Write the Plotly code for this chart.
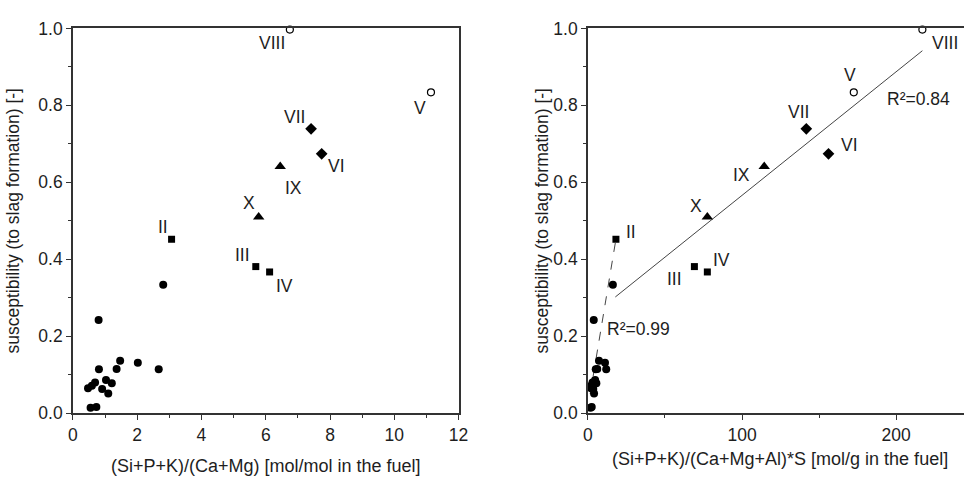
import plotly.graph_objects as go

# ---------------- data ----------------
# unlabeled fuels (filled circles): susceptibility and both ratios
circ_y = [0.242, 0.334, 0.136, 0.131, 0.115, 0.114, 0.114, 0.086, 0.080, 0.078, 0.071, 0.065, 0.063, 0.051, 0.016, 0.014]
circ_x_left = [0.80, 2.81, 1.47, 2.02, 1.36, 0.81, 2.67, 1.03, 0.69, 1.21, 0.59, 0.47, 0.91, 1.10, 0.73, 0.55]
circ_x_right = [3.8, 16.2, 7.2, 11.1, 6.1, 5.1, 11.9, 4.7, 3.0, 5.5, 2.1, 2.1, 3.5, 4.0, 2.5, 1.7]

# labelled fuels
lab_names = ["II", "III", "IV", "X", "IX", "VII", "VI", "V", "VIII"]
lab_y = [0.452, 0.381, 0.367, 0.510, 0.641, 0.739, 0.674, 0.834, 0.997]
lab_x_left = [3.07, 5.69, 6.12, 5.78, 6.45, 7.41, 7.74, 11.14, 6.75]
lab_x_right = [18.2, 69.1, 77.5, 77.5, 114.4, 141.7, 156.1, 172.5, 217.0]
lab_group = ["sq", "sq", "sq", "tri", "tri", "dia", "dia", "open", "open"]

# trend lines (right panel)
fit1_x = [17.8, 217.0]
fit1_y = [0.302, 0.942]
fit1_label = "R²=0.84"
fit2_x = [1.5, 18.2]
fit2_y = [0.050, 0.452]
fit2_label = "R²=0.99"

x_title_left = "(Si+P+K)/(Ca+Mg) [mol/mol in the fuel]"
x_title_right = "(Si+P+K)/(Ca+Mg+Al)*S [mol/g in the fuel]"
y_title = "susceptibility (to slag formation) [-]"

# ---------------- style ----------------
FONT = "Liberation Sans, Arial, sans-serif"
TXT = "#1e1e1e"
AX = "#333333"
FS = 17.5
sym_style = {
    "sq": dict(symbol="square", size=7, color="black", line=dict(width=0)),
    "tri": dict(symbol="triangle-up", size=10, color="black", line=dict(width=0)),
    "dia": dict(symbol="diamond", size=9, color="black", line=dict(width=0)),
    "open": dict(symbol="circle", size=7, color="white", line=dict(width=1.2, color="black")),
}
off_left = {"II": (-9, 12), "III": (-13, 12), "IV": (15, -14), "X": (-10, 14), "IX": (13, -21),
            "VII": (-17, 12), "VI": (15, -12), "V": (-11, -16), "VIII": (-18, -13)}
off_right = {"II": (15, 7), "III": (-20, -12), "IV": (14, 12), "X": (-11, 11), "IX": (-23, -8),
             "VII": (-8, 17), "VI": (21, 9), "V": (-4, 17), "VIII": (23, -13)}

fig = go.Figure()

# trend lines
fig.add_trace(go.Scatter(x=fit1_x, y=fit1_y, mode="lines", line=dict(color="#444", width=1),
                         xaxis="x2", yaxis="y2", showlegend=False, hoverinfo="skip"))
fig.add_trace(go.Scatter(x=fit2_x, y=fit2_y, mode="lines", line=dict(color="#444", width=1, dash="dash"),
                         xaxis="x2", yaxis="y2", showlegend=False, hoverinfo="skip"))

for xs, xa, ya in [(circ_x_left, "x", "y"), (circ_x_right, "x2", "y2")]:
    fig.add_trace(go.Scatter(x=xs, y=circ_y, mode="markers", xaxis=xa, yaxis=ya,
                             marker=dict(symbol="circle", size=8, color="black"),
                             showlegend=False, cliponaxis=False))

for g in ["sq", "tri", "dia", "open"]:
    idx = [i for i, gg in enumerate(lab_group) if gg == g]
    for xs, xa, ya in [(lab_x_left, "x", "y"), (lab_x_right, "x2", "y2")]:
        fig.add_trace(go.Scatter(x=[xs[i] for i in idx], y=[lab_y[i] for i in idx], mode="markers",
                                 xaxis=xa, yaxis=ya, marker=sym_style[g], showlegend=False,
                                 cliponaxis=False))

ann = []
for i, n in enumerate(lab_names):
    dx, dy = off_left[n]
    ann.append(dict(x=lab_x_left[i], y=lab_y[i], xref="x", yref="y", text=n, showarrow=False,
                    xshift=dx, yshift=dy, font=dict(size=FS, color=TXT, family=FONT)))
    dx, dy = off_right[n]
    ann.append(dict(x=lab_x_right[i], y=lab_y[i], xref="x2", yref="y2", text=n, showarrow=False,
                    xshift=dx, yshift=dy, font=dict(size=FS, color=TXT, family=FONT)))
ann.append(dict(x=214.6, y=0.817, xref="x2", yref="y2", text=fit1_label, showarrow=False,
                font=dict(size=FS, color=TXT, family=FONT)))
ann.append(dict(x=32.7, y=0.219, xref="x2", yref="y2", text=fit2_label, showarrow=False,
                font=dict(size=FS, color=TXT, family=FONT)))
# right x-axis title (the original axis runs past the picture edge, so centre it manually)
ann.append(dict(x=0.8085, y=0.024, xref="paper", yref="paper", text=x_title_right, showarrow=False,
                xanchor="center", yanchor="middle", font=dict(size=18, color=TXT, family=FONT)))

common_axis = dict(showline=True, linecolor=AX, linewidth=1.5, ticks="outside", ticklen=5,
                   tickwidth=1.2, tickcolor=AX, showgrid=False, zeroline=False,
                   tickfont=dict(size=FS, color=TXT, family=FONT),
                   title_font=dict(size=FS, color=TXT, family=FONT))
minor = dict(ticks="outside", ticklen=3, tickwidth=1, tickcolor=AX)

fig.update_layout(
    width=974, height=480, margin=dict(l=0, r=0, t=0, b=0),
    paper_bgcolor="white", plot_bgcolor="white",
    xaxis=dict(common_axis, domain=[0.0708, 0.473], range=[0, 12], dtick=2, mirror=True,
               minor=dict(minor, dtick=1), anchor="y",
               title=dict(text=x_title_left, standoff=15, font=dict(size=18))),
    yaxis=dict(common_axis, domain=[0.1235, 0.96], range=[0, 1.0], dtick=0.2, tickformat=".1f",
               mirror=True, minor=dict(minor, dtick=0.1), anchor="x",
               title=dict(text=y_title, standoff=14)),
    xaxis2=dict(common_axis, domain=[0.6078, 1.0], range=[0, 244], dtick=100, mirror=True,
                minor=dict(minor, dtick=50), anchor="y2"),
    yaxis2=dict(common_axis, domain=[0.1235, 0.96], range=[0, 1.0], dtick=0.2, tickformat=".1f",
                mirror=False, minor=dict(minor, dtick=0.1), anchor="x2",
                title=dict(text=y_title, standoff=0)),
    annotations=ann,
)

fig.write_html("out.html")
